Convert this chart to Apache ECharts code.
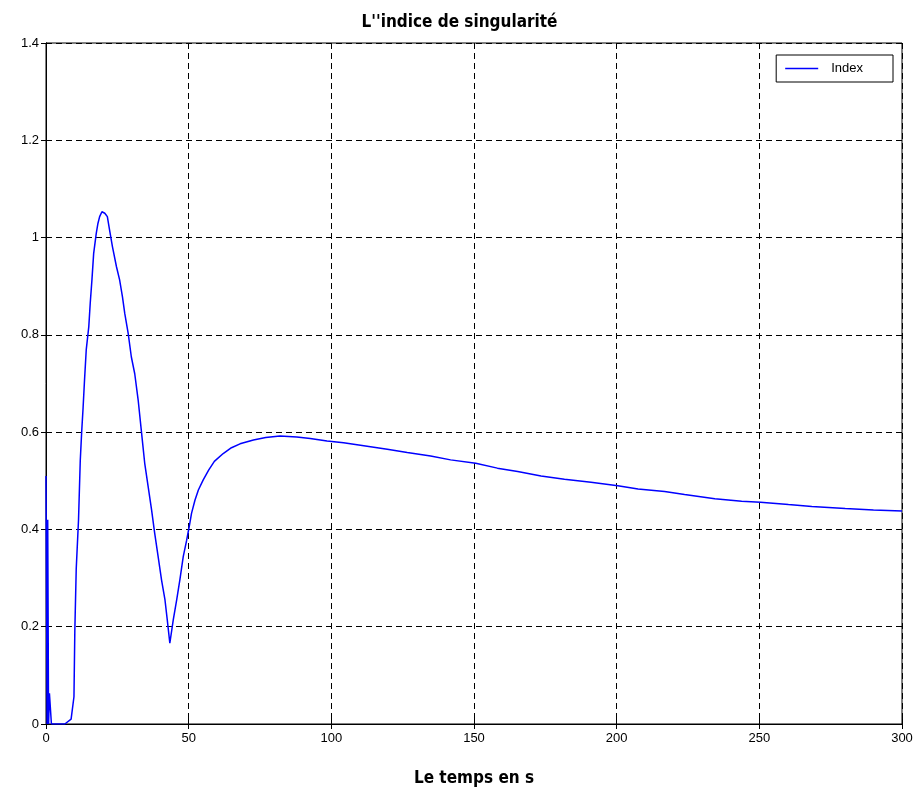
<!DOCTYPE html>
<html>
<head>
<meta charset="utf-8">
<script src="https://cdn.jsdelivr.net/npm/echarts@6/dist/echarts.min.js"></script>
<style>
  html, body { margin: 0; padding: 0; background: #fff; }
  #chart { width: 919px; height: 793px; }
</style>
</head>
<body>
<div id="chart"></div>
<script>
// Time samples (s)
const timeValues = [
  0, 0.4, 0.6, 0.9, 1.2, 1.7, 1.9, 6.6, 8.8, 9.8, 10.1, 10.6, 11.4, 12.0, 12.5,
  13.0, 13.5, 14.1, 15.0, 15.5, 16.1, 16.7, 17.6, 18.2, 18.8, 19.6, 20.6, 21.5,
  22.3, 23.3, 24.7, 25.8, 26.8, 27.6, 28.8, 29.9, 31.1, 32.3, 33.5, 34.6, 35.8,
  37.0, 38.1, 39.3, 40.5, 41.7, 42.5, 43.4, 44.6, 45.8, 46.9, 48.1, 49.3, 50.2,
  51.0, 52.2, 53.4, 55.1, 57.0, 59.0, 62.1, 65.0, 68.0, 72.7, 77.0, 82.0, 87.9,
  92.6, 98.5, 104.3, 110.2, 114.9, 119.6, 126.6, 134.8, 141.8, 150.6, 158.2,
  165.3, 173.5, 181.7, 191.0, 200.4, 207.5, 216.8, 223.8, 234.4, 243.8, 250.4,
  260.2, 268.4, 280.1, 290.0, 300
];
// Singularity index values
const indexValues = [
  0.51, 0.0, 0.42, 0.0, 0.063, 0.063, 0.0, 0.0, 0.01, 0.056, 0.19, 0.32, 0.42, 0.54, 0.6,
  0.65, 0.707, 0.769, 0.817, 0.865, 0.913, 0.967, 1.008, 1.029, 1.043, 1.053, 1.05, 1.043,
  1.015, 0.981, 0.94, 0.913, 0.878, 0.844, 0.803, 0.755, 0.72, 0.666, 0.598, 0.536, 0.488,
  0.44, 0.392, 0.344, 0.296, 0.255, 0.214, 0.166, 0.214, 0.255, 0.296, 0.344, 0.378, 0.406,
  0.433, 0.46, 0.481, 0.502, 0.522, 0.54, 0.556, 0.568, 0.576, 0.584, 0.589, 0.592, 0.59,
  0.587, 0.582, 0.578, 0.573, 0.569, 0.565, 0.558, 0.551, 0.543, 0.536, 0.526,
  0.519, 0.51, 0.503, 0.497, 0.49, 0.483, 0.478, 0.472, 0.463, 0.458, 0.456,
  0.451, 0.447, 0.443, 0.440, 0.438
];
const xTicks = [0, 50, 100, 150, 200, 250, 300];
const yTicks = [0, 0.2, 0.4, 0.6, 0.8, 1, 1.2, 1.4];

const chartTitle = "L''indice de singularité";
const xAxisTitle = 'Le temps en s';
const seriesName = 'Index';

const font = '"Liberation Sans", Arial, sans-serif';
const narrow = '"Liberation Sans Narrow", "DejaVu Sans Condensed", "Liberation Sans", Arial, sans-serif';

const points = timeValues.map((t, i) => [t, indexValues[i]]);

const tickLabel = { color: '#000', fontFamily: font, fontSize: 13 };
const dashed = { show: true, lineStyle: { color: '#000', type: [6, 4], width: 1 } };

const chart = echarts.init(document.getElementById('chart'));
chart.setOption({
  animation: false,
  backgroundColor: '#fff',
  title: {
    text: chartTitle,
    left: 'center',
    top: 9,
    textStyle: { fontFamily: narrow, fontSize: 17, fontWeight: 'bold', color: '#000' }
  },
  legend: {
    right: 26,
    top: 55,
    orient: 'vertical',
    data: [seriesName],
    icon: 'rect',
    itemWidth: 33,
    itemHeight: 1.5,
    itemGap: 4,
    padding: [7, 30, 7, 9],
    borderColor: '#000',
    borderWidth: 1,
    backgroundColor: '#fff',
    textStyle: { fontFamily: font, fontSize: 13, color: '#000', padding: [0, 0, 0, 8] }
  },
  grid: {
    left: 46, right: 17, top: 43, bottom: 69,
    show: true, borderColor: '#000', borderWidth: 1, backgroundColor: '#fff'
  },
  xAxis: [{
    type: 'value', min: 0, max: 300, interval: 50,
    name: xAxisTitle, nameLocation: 'middle', nameGap: 46,
    nameTextStyle: { fontFamily: narrow, fontSize: 17, fontWeight: 'bold', color: '#000' },
    axisLine: { show: true, lineStyle: { color: '#000', width: 1 } },
    axisTick: { show: true, inside: true, length: 5, lineStyle: { color: '#000' } },
    axisLabel: Object.assign({ margin: 8, formatter: v => xTicks.includes(v) ? String(v) : '' }, tickLabel),
    splitLine: dashed
  }, {
    type: 'value', min: 0, max: 300, interval: 50, position: 'top',
    axisLine: { show: true, lineStyle: { color: '#000' } },
    axisTick: { show: true, inside: true, length: 5, lineStyle: { color: '#000' } },
    axisLabel: { show: false }, splitLine: { show: false }
  }],
  yAxis: [{
    type: 'value', min: 0, max: 1.4, interval: 0.2,
    axisLine: { show: true, lineStyle: { color: '#000', width: 1 } },
    axisTick: { show: true, inside: true, length: 5, lineStyle: { color: '#000' } },
    axisLabel: Object.assign({
      margin: 7,
      formatter: v => {
        const hit = yTicks.find(t => Math.abs(t - v) < 1e-6);
        return hit === undefined ? '' : String(hit);
      }
    }, tickLabel),
    splitLine: dashed
  }, {
    type: 'value', min: 0, max: 1.4, interval: 0.2, position: 'right',
    axisLine: { show: true, lineStyle: { color: '#000' } },
    axisTick: { show: true, inside: true, length: 5, lineStyle: { color: '#000' } },
    axisLabel: { show: false }, splitLine: { show: false }
  }],
  series: [{
    name: seriesName,
    type: 'line',
    data: points,
    xAxisIndex: 0,
    yAxisIndex: 0,
    showSymbol: false,
    smooth: false,
    lineStyle: { color: '#0000ff', width: 1.5 },
    itemStyle: { color: '#0000ff' },
    clip: true
  }]
});
</script>
</body>
</html>
